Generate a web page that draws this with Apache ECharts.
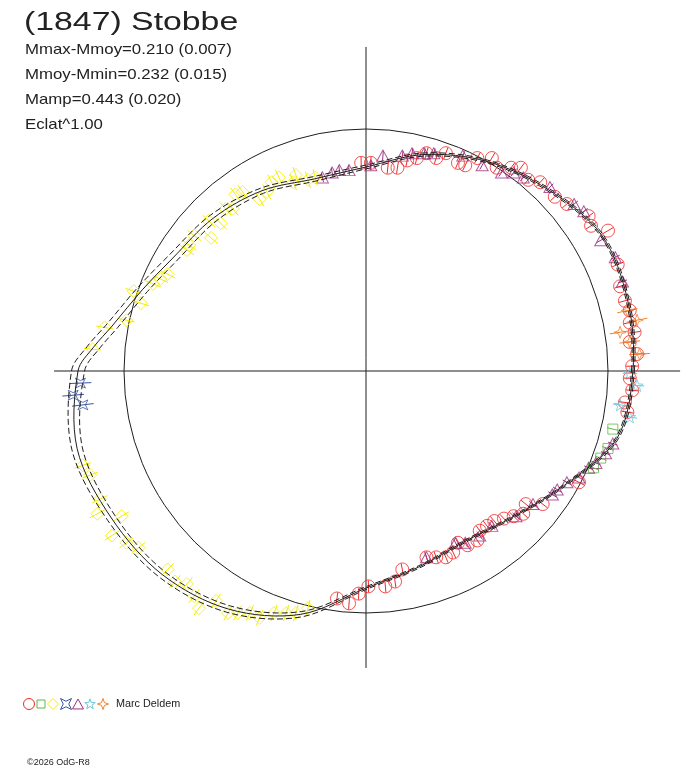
<!DOCTYPE html>
<html>
<head>
<meta charset="utf-8">
<script src="https://cdn.jsdelivr.net/npm/echarts@6/dist/echarts.min.js"></script>
<style>
  html, body { margin: 0; padding: 0; background: #fff; }
  #chart { width: 688px; height: 768px; }
</style>
</head>
<body>
<div id="chart"></div>
<script>
// fitted polar light curve: radius (reference circle = 1) against phase angle (deg)
var curvePhase  = [0, 15, 30, 45, 60, 75, 90, 105, 120, 135, 150, 160, 170, 175, 180, 195, 210, 225, 240, 255, 270, 285, 300, 315, 330, 345];
var curveRadius = [1.103, 1.120, 1.124, 1.062, 1.000, 0.926, 0.843, 0.822, 0.860, 0.893, 0.926, 0.983, 1.066, 1.130, 1.190, 1.236, 1.215, 1.190, 1.136, 1.041, 0.897, 0.839, 0.814, 0.855, 0.946, 1.074];
var curveSpread = [0.006, 0.006, 0.006, 0.006, 0.006, 0.007, 0.008, 0.010, 0.012, 0.017, 0.020, 0.022, 0.025, 0.027, 0.027, 0.022, 0.018, 0.016, 0.015, 0.012, 0.006, 0.005, 0.005, 0.005, 0.005, 0.006];

// cross hair ends (x, y)
var axisH = [[-1.289, 0], [1.298, 0]];
var axisV = [[0, 1.339], [0, -1.227]];
var circleRadius = 1;

// observations, one list per session (x, y in circle units)
var redPts = [[-0.02,0.86],[0.02,0.86],[0.09,0.84],[0.13,0.84],[0.17,0.87],[0.21,0.88],[0.25,0.90],[0.29,0.88],[0.33,0.90],[0.38,0.86],
  [0.41,0.85],[0.46,0.88],[0.52,0.88],[0.54,0.84],[0.60,0.84],[0.64,0.84],[0.67,0.79],[0.72,0.78],[0.78,0.72],[0.83,0.69],
  [0.92,0.64],[0.93,0.60],[1.00,0.58],[1.04,0.44],[1.05,0.35],[1.07,0.29],[1.09,0.25],[1.09,0.20],[1.11,0.16],[1.09,0.12],
  [1.12,0.07],[1.10,0.02],[1.09,-0.03],[1.10,-0.08],[1.07,-0.13],[1.08,-0.17],[0.88,-0.46],[0.73,-0.55],[0.66,-0.55],[0.65,-0.59],
  [0.61,-0.60],[0.57,-0.61],[0.53,-0.62],[0.50,-0.64],[0.47,-0.66],[0.46,-0.70],[0.42,-0.72],[0.38,-0.71],[0.36,-0.75],[0.33,-0.77],
  [0.29,-0.77],[0.25,-0.77],[0.15,-0.82],[0.12,-0.87],[0.08,-0.89],[0.01,-0.89],[-0.03,-0.92],[-0.07,-0.96],[-0.12,-0.94]];
var greenPts = [[1.02,-0.24],[1.00,-0.32],[0.97,-0.36],[0.94,-0.40]];
var yellowPts = [[-0.21,0.80],[-0.24,0.79],[-0.29,0.81],[-0.30,0.78],[-0.36,0.80],[-0.39,0.78],[-0.41,0.74],[-0.44,0.71],[-0.51,0.74],[-0.54,0.73],
  [-0.55,0.67],[-0.58,0.67],[-0.60,0.61],[-0.65,0.62],[-0.64,0.55],[-0.71,0.56],[-0.73,0.52],[-0.74,0.50],[-0.82,0.40],[-0.85,0.38],
  [-0.88,0.36],[-0.96,0.33],[-0.93,0.28],[-0.99,0.21],[-1.08,0.18],[-1.13,0.09],[-1.17,-0.39],[-1.14,-0.43],[-1.10,-0.53],[-1.11,-0.59],
  [-1.01,-0.60],[-1.05,-0.68],[-0.99,-0.71],[-0.94,-0.73],[-0.82,-0.82],[-0.79,-0.87],[-0.74,-0.88],[-0.71,-0.93],[-0.69,-0.98],[-0.62,-0.95],
  [-0.57,-1.00],[-0.53,-1.00],[-0.48,-1.00],[-0.44,-1.02],[-0.38,-1.00],[-0.33,-1.00],[-0.29,-1.00],[-0.24,-0.98]];
var bluePts = [[-1.18,-0.05],[-1.21,-0.10],[-1.17,-0.14]];
var purplePts = [[-0.18,0.80],[-0.14,0.82],[-0.11,0.83],[-0.07,0.83],[0.02,0.85],[0.07,0.89],[0.15,0.89],[0.19,0.90],[0.24,0.90],[0.28,0.90],
  [0.40,0.89],[0.48,0.85],[0.56,0.82],[0.61,0.82],[0.65,0.80],[0.76,0.76],[0.86,0.69],[0.90,0.66],[0.97,0.54],[1.03,0.47],
  [1.06,0.37],[1.02,-0.30],[0.99,-0.34],[0.95,-0.38],[0.92,-0.40],[0.88,-0.44],[0.83,-0.46],[0.79,-0.49],[0.77,-0.51],[0.69,-0.55],
  [0.62,-0.60],[0.52,-0.64],[0.47,-0.68],[0.41,-0.71],[0.37,-0.71],[0.25,-0.77]];
var cyanPts = [[1.09,-0.01],[1.12,-0.06],[1.05,-0.14],[1.09,-0.19]];
var orangePts = [[1.08,0.25],[1.12,0.21],[1.05,0.16],[1.09,0.12],[1.13,0.07]];

// radial error half-lengths per session
var redErr = 0.025, greenErr = 0.025, yellowErr = 0.035, blueErr = 0.045, purpleErr = 0.02, cyanErr = 0.03, orangeErr = 0.043;

// outline shapes in a 10x10 box
var STAR4 = [[5,0],[6.3,3.7],[10,5],[6.3,6.3],[5,10],[3.7,6.3],[0,5],[3.7,3.7]];
var STAR5 = [[5,0.3],[6.18,3.68],[9.76,3.75],[6.9,5.92],[7.94,9.35],[5,7.3],[2.06,9.35],[3.1,5.92],[0.24,3.75],[3.82,3.68]];
var PINCH = [[0,0],[5,2.5],[10,0],[7.5,5],[10,10],[5,7.5],[0,10],[2.5,5]];
var DIAMOND = [[5,0],[10,5],[5,10],[0,5]];
var TRIANGLE = [[5,0.5],[10,9.5],[0,9.5]];

function toPath(pts) {
  return 'path://' + pts.map(function (p, i) { return (i ? 'L' : 'M') + p[0] + ',' + p[1]; }).join(' ') + ' Z';
}

var sessions = [
  { data: redPts,    err: redErr,    color: '#f02828', symbol: 'circle',      size: 13 },
  { data: greenPts,  err: greenErr,  color: '#5db946', symbol: 'rect',        size: 10 },
  { data: yellowPts, err: yellowErr, color: '#f4ec00', symbol: 'diamond',     size: 13, shape: DIAMOND },
  { data: bluePts,   err: blueErr,   color: '#3b55a3', symbol: toPath(PINCH), size: 10, shape: PINCH },
  { data: purplePts, err: purpleErr, color: '#9e2f7f', symbol: 'triangle',    size: [12, 11], shape: TRIANGLE },
  { data: cyanPts,   err: cyanErr,   color: '#6ec9e0', symbol: toPath(STAR5), size: 12, shape: STAR5 },
  { data: orangePts, err: orangeErr, color: '#f0812a', symbol: toPath(STAR4), size: 12, shape: STAR4 }
];

function toXY(phase, radius) {
  var a = phase * Math.PI / 180;
  return [radius * Math.cos(a), radius * Math.sin(a)];
}

// closed smooth path through pixel points (cardinal spline, spacing aware)
function loopPath(px) {
  var n = px.length, k = 1 / 3;
  var cps = px.map(function (p, i) {
    var a = px[(i - 1 + n) % n], b = px[(i + 1) % n];
    var d0 = Math.hypot(p[0] - a[0], p[1] - a[1]), d1 = Math.hypot(b[0] - p[0], b[1] - p[1]);
    var vx = (b[0] - a[0]) * k, vy = (b[1] - a[1]) * k, s = d0 + d1;
    return { inn: [p[0] - vx * d0 / s, p[1] - vy * d0 / s], out: [p[0] + vx * d1 / s, p[1] + vy * d1 / s] };
  });
  var d = 'M' + px[0][0] + ',' + px[0][1];
  for (var i = 0; i < n; i++) {
    var j = (i + 1) % n;
    d += ' C' + cps[i].out[0] + ',' + cps[i].out[1] + ' ' + cps[j].inn[0] + ',' + cps[j].inn[1] + ' ' + px[j][0] + ',' + px[j][1];
  }
  return d + ' Z';
}

function curveSeries(offsetSign, dashed) {
  return {
    type: 'custom', data: [0], silent: true, z: 4,
    renderItem: function (params, api) {
      var px = curvePhase.map(function (p, i) {
        return api.coord(toXY(p, curveRadius[i] + offsetSign * curveSpread[i]));
      });
      return {
        type: 'path',
        shape: { pathData: loopPath(px) },
        style: { fill: 'none', stroke: '#1e1e1e', lineWidth: 1, lineDash: dashed ? [6, 3] : null }
      };
    }
  };
}

function plainLine(data) {
  return { type: 'line', data: data, symbol: 'none', silent: true, z: 1, lineStyle: { color: '#1e1e1e', width: 1 } };
}

// radial error bar through every point
function errorBars(s) {
  return {
    type: 'custom', data: s.data, silent: true, z: 3,
    renderItem: function (params, api) {
      var p = api.coord([api.value(0), api.value(1)]);
      var c = api.coord([0, 0]);
      var dx = p[0] - c[0], dy = p[1] - c[1];
      var len = Math.sqrt(dx * dx + dy * dy) || 1;
      var h = api.size([s.err, 0])[0];
      return {
        type: 'line',
        shape: { x1: p[0] - dx / len * h, y1: p[1] - dy / len * h, x2: p[0] + dx / len * h, y2: p[1] + dy / len * h },
        style: { stroke: s.color, lineWidth: 1 }
      };
    }
  };
}

var series = [
  plainLine(axisH),
  plainLine(axisV),
  {
    type: 'custom', data: [0], silent: true, z: 1,
    renderItem: function (params, api) {
      var c = api.coord([0, 0]);
      return { type: 'circle', shape: { cx: c[0], cy: c[1], r: api.size([circleRadius, 0])[0] },
        style: { fill: 'none', stroke: '#1e1e1e', lineWidth: 1 } };
    }
  },
  curveSeries(0, false),
  curveSeries(1, true),
  curveSeries(-1, true)
];
sessions.forEach(function (s) {
  series.push({
    type: 'scatter', data: s.data, symbol: s.symbol, symbolSize: s.size, silent: true, z: 2,
    itemStyle: { color: 'rgba(0,0,0,0)', borderColor: s.color, borderWidth: 1 }
  });
  series.push(errorBars(s));
});

// legend row of hollow icons
var legendX = [29, 41, 53, 66, 78, 90, 103];
var legendIcons = sessions.map(function (s, i) {
  var st = { fill: 'none', stroke: s.color, lineWidth: 1 };
  var cx = legendX[i], cy = 704;
  if (s.symbol === 'circle') return { type: 'circle', shape: { cx: cx, cy: cy, r: 5.5 }, style: st };
  if (s.symbol === 'rect') return { type: 'rect', shape: { x: cx - 4, y: cy - 4, width: 8, height: 8 }, style: st };
  var pts = s.shape.map(function (p) { return [cx - 5.5 + p[0] * 1.1, cy - 5.5 + p[1] * 1.1]; });
  return { type: 'polygon', shape: { points: pts }, style: st };
});

var font = '"Liberation Sans", Arial, sans-serif';
var statLines = ['Mmax-Mmoy=0.210 (0.007)', 'Mmoy-Mmin=0.232 (0.015)', 'Mamp=0.443 (0.020)', 'Eclat^1.00'];
var graphics = [
  { type: 'text', x: 24, y: 10, scaleX: 1.3, style: { text: '(1847) Stobbe', font: '26px ' + font, fill: '#222', textVerticalAlign: 'top' } }
];
statLines.forEach(function (t, i) {
  graphics.push({ type: 'text', x: 25, y: 42 + i * 25, scaleX: 1.12, style: { text: t, font: '15px ' + font, fill: '#222', textVerticalAlign: 'top' } });
});
graphics.push({ type: 'text', x: 116, y: 699, scaleX: 1.08, style: { text: 'Marc Deldem', font: '10px ' + font, fill: '#222', textVerticalAlign: 'top' } });
graphics.push({ type: 'text', x: 27, y: 758, style: { text: '\u00a92026 OdG-R8', font: '9px ' + font, fill: '#222', textVerticalAlign: 'top' } });
graphics = graphics.concat(legendIcons);

var chart = echarts.init(document.getElementById('chart'), null, { renderer: 'canvas' });
chart.setOption({
  animation: false,
  backgroundColor: '#fff',
  grid: { left: 3, top: 8, width: 2.8 * 242, height: 2.9 * 242 },
  xAxis: { type: 'value', min: -1.5, max: 1.3, show: false },
  yAxis: { type: 'value', min: -1.4, max: 1.5, show: false },
  graphic: graphics,
  series: series
});
</script>
</body>
</html>
